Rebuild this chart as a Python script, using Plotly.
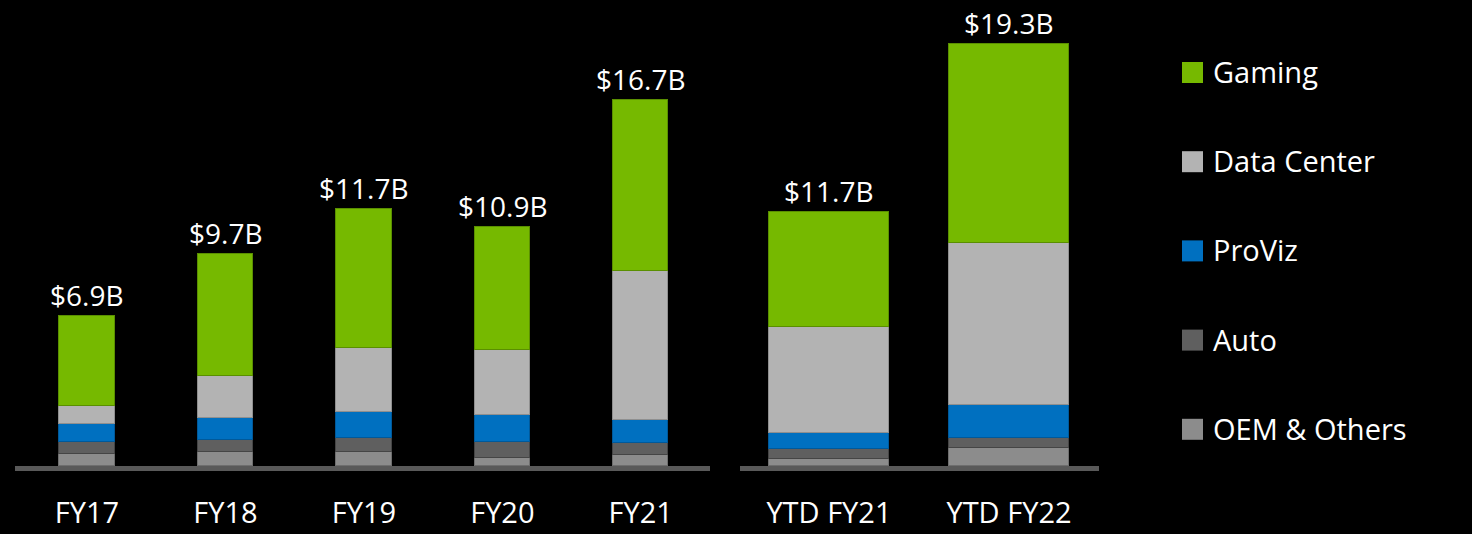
import plotly.graph_objects as go

# ---- data ----
fy_years = ["FY17", "FY18", "FY19", "FY20", "FY21"]
ytd_periods = ["YTD FY21", "YTD FY22"]
segments = ["Gaming", "Data Center", "ProViz", "Auto", "OEM & Others"]

gaming_fy = [4.10, 5.55, 6.33, 5.60, 7.80]
datacenter_fy = [0.83, 1.93, 2.95, 2.98, 6.79]
proviz_fy = [0.84, 0.99, 1.16, 1.23, 1.06]
auto_fy = [0.52, 0.55, 0.64, 0.72, 0.53]
oem_fy = [0.56, 0.65, 0.65, 0.38, 0.52]

gaming_ytd = [5.26, 9.09]
datacenter_ytd = [4.84, 7.40]
proviz_ytd = [0.75, 1.49]
auto_ytd = [0.43, 0.46]
oem_ytd = [0.33, 0.84]

total_labels_fy = ["$6.9B", "$9.7B", "$11.7B", "$10.9B", "$16.7B"]
total_labels_ytd = ["$11.7B", "$19.3B"]

# ---- styles ----
fill_colors = ["#76b900", "#b3b3b3", "#0070c0", "#5f5f5f", "#8c8c8c"]
edge_colors = ["#5a8f00", "#8f8f8f", "#00599a", "#454545", "#6e6e6e"]
FONT = "Open Sans"

# series in stacking order (bottom first)
fy_series = [gaming_fy, datacenter_fy, proviz_fy, auto_fy, oem_fy]
ytd_series = [gaming_ytd, datacenter_ytd, proviz_ytd, auto_ytd, oem_ytd]
order = [4, 3, 2, 1, 0]

fig = go.Figure()
for i in order:
    fig.add_trace(go.Bar(
        x=fy_years, y=fy_series[i], name=segments[i], xaxis="x", yaxis="y",
        width=0.4, marker=dict(color=fill_colors[i], line=dict(color=edge_colors[i], width=1)),
        showlegend=False, hoverinfo="skip"))
    fig.add_trace(go.Bar(
        x=ytd_periods, y=ytd_series[i], name=segments[i], xaxis="x2", yaxis="y2",
        width=0.667, marker=dict(color=fill_colors[i], line=dict(color=edge_colors[i], width=1)),
        showlegend=False, hoverinfo="skip"))

annotations = []
fy_totals = [sum(v) for v in zip(*fy_series)]
ytd_totals = [sum(v) for v in zip(*ytd_series)]
for cat, tot, lab in zip(fy_years, fy_totals, total_labels_fy):
    annotations.append(dict(x=cat, y=tot, xref="x", yref="y", text=lab, showarrow=False,
                            yanchor="bottom", yshift=0,
                            font=dict(family=FONT, size=28, color="white")))
for cat, tot, lab in zip(ytd_periods, ytd_totals, total_labels_ytd):
    annotations.append(dict(x=cat, y=tot, xref="x2", yref="y2", text=lab, showarrow=False,
                            yanchor="bottom", yshift=0,
                            font=dict(family=FONT, size=28, color="white")))

# manual legend (large squares like the reference)
W, H = 1472, 534
shapes = []
legend_top = 72.5
legend_step = 89.2
for k, name in enumerate(segments):
    cy = legend_top + k * legend_step
    shapes.append(dict(type="rect", xref="paper", yref="paper",
                       x0=1182 / W, x1=1203 / W,
                       y0=1 - (cy + 10.5) / H, y1=1 - (cy - 10.5) / H,
                       fillcolor=fill_colors[k], line=dict(width=0)))
    annotations.append(dict(x=1211 / W, y=1 - (cy - 1) / H, xref="paper", yref="paper",
                            text=name, showarrow=False, xanchor="left", yanchor="middle",
                            font=dict(family=FONT, size=29, color="white")))

base_px = 466
px_per_b = 21.9
ymax = base_px / px_per_b
ydom0 = (H - base_px) / H

axis_common = dict(showline=True, linecolor="#595959", linewidth=5, showgrid=False,
                   zeroline=False, ticks="outside", ticklen=17, tickcolor="rgba(0,0,0,0)",
                   automargin=False,
                   tickfont=dict(family=FONT, size=29, color="white"), fixedrange=True)
yaxis_common = dict(range=[0, ymax], domain=[ydom0, 1], visible=False, fixedrange=True,
                    automargin=False)

fig.update_layout(
    width=W, height=H, autosize=False,
    paper_bgcolor="black", plot_bgcolor="black",
    margin=dict(l=0, r=0, t=0, b=0, pad=0, autoexpand=False),
    barmode="stack", bargap=0,
    showlegend=False,
    xaxis=dict(domain=[15 / W, 710 / W], range=[-0.52, 4.5], anchor="y", **axis_common),
    xaxis2=dict(domain=[740 / W, 1099 / W], range=[-0.494, 1.5], anchor="y2", **axis_common),
    yaxis=dict(anchor="x", **yaxis_common),
    yaxis2=dict(anchor="x2", **yaxis_common),
    annotations=annotations,
    shapes=shapes,
    font=dict(family=FONT, color="white"),
)

fig.write_html(
    "out.html",
    config={"displayModeBar": False, "responsive": False},
    post_script="document.body.style.margin='0';document.body.style.padding='0';"
                "document.body.style.overflow='hidden';document.body.style.background='black';",
)
